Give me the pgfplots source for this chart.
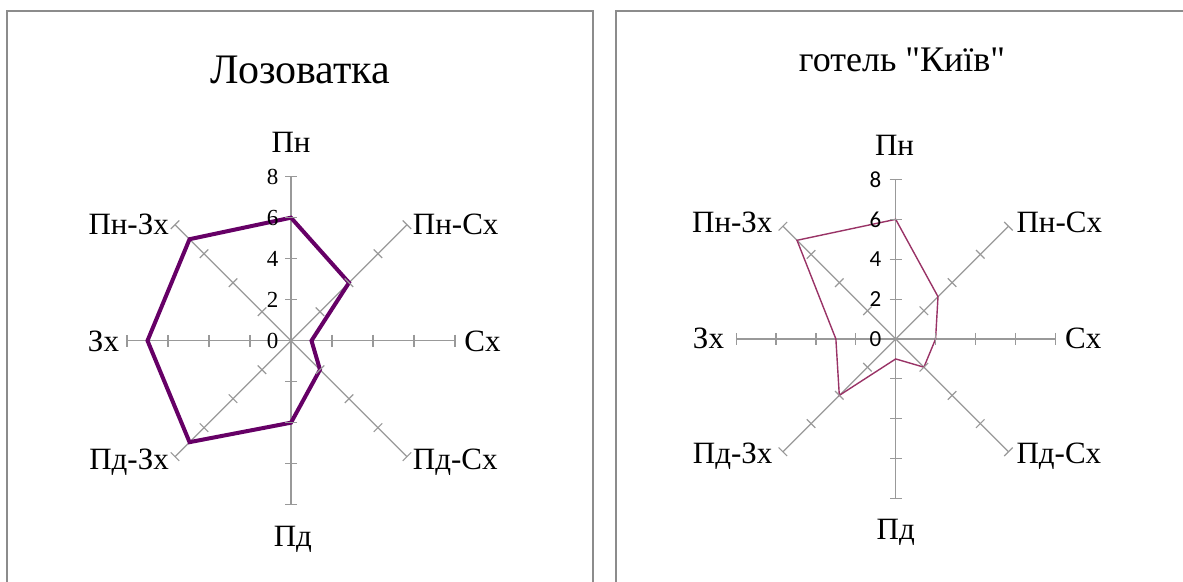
\documentclass[border=0pt]{standalone}
\usepackage{pgfplots}
\pgfplotsset{compat=1.18}
\usepackage{fontspec}
\setmainfont[Ligatures=TeXOff]{Liberation Serif}
\newfontfamily\calibri{Carlito}
\definecolor{spoke}{HTML}{999999}
\definecolor{boxgray}{HTML}{8C8C8C}
\definecolor{lozo}{HTML}{660066}
\definecolor{kyiv}{HTML}{993366}
\pgfplotsset{
  radar/.style={anchor=center, x=#1, y=#1, xmin=-11, xmax=11, ymin=-11, ymax=11,
    hide axis, clip=false},
}
\tikzset{lab/.style={inner sep=0pt, font=\fontsize{15.5}{18}\selectfont}}
\newcommand{\spokes}{%
  \pgfplotsinvokeforeach{0,45,...,315}{
    \addplot[spoke, line width=0.6pt, data cs=polar] coordinates {(##1,0) (##1,8)};
    \addplot[spoke, line width=0.6pt, only marks, mark=|, mark size=3pt,
      mark options={rotate=##1, solid}, data cs=polar]
      coordinates {(##1,2) (##1,4) (##1,6) (##1,8)};
  }%
}
\begin{document}
\begin{tikzpicture}
\path[use as bounding box] (0pt,0pt) rectangle (591.5pt,291pt);
\clip (0pt,0pt) rectangle (591.5pt,291pt);
\draw[boxgray, line width=1pt] (3.3pt,-20pt) rectangle (296.3pt,285.5pt);
\draw[boxgray, line width=1pt] (307.9pt,-20pt) rectangle (640pt,285.3pt);
\node[anchor=base, inner sep=0pt, font=\fontsize{21}{25}\selectfont] at (150.2pt,249.3pt) {Лозоватка};
\node[anchor=base, inner sep=0pt, font=\fontsize{18}{22}\selectfont] at (451pt,255.3pt) {готель "Київ"};

% Left chart
\begin{axis}[radar=10.25pt, at={(145.5pt,120.65pt)}]
\spokes
\addplot[lozo, line width=2pt, data cs=polar] coordinates
  {(90,6) (45,4) (0,1) (-45,2) (-90,4) (-135,7) (180,7) (135,7)} -- cycle;
\pgfplotsinvokeforeach{0,2,4,6,8}{
  \node[anchor=east, inner sep=0pt, font=\fontsize{11.5}{14}\selectfont] at (axis cs:-0.6,#1) {#1};
}
\node[lab, anchor=base] at (axis cs:0,9.16) {Пн};
\node[lab, anchor=base west] at (axis cs:5.93,5.2) {Пн-Сх};
\node[lab, anchor=base west] at (axis cs:8.44,-0.53) {Сх};
\node[lab, anchor=base west] at (axis cs:5.93,-6.3) {Пд-Сх};
\node[lab, anchor=base] at (axis cs:0.09,-10.05) {Пд};
\node[lab, anchor=base east] at (axis cs:-5.94,-6.3) {Пд-Зх};
\node[lab, anchor=base east] at (axis cs:-8.37,-0.53) {Зх};
\node[lab, anchor=base east] at (axis cs:-5.94,5.2) {Пн-Зх};
\end{axis}

% Right chart
\begin{axis}[radar=9.97pt, at={(447.85pt,121.5pt)}]
\spokes
\addplot[kyiv, line width=0.7pt, data cs=polar] coordinates
  {(90,6) (45,3) (0,2) (-45,2) (-90,1) (-135,4) (180,3) (135,7)} -- cycle;
\pgfplotsinvokeforeach{0,2,4,6,8}{
  \node[anchor=east, inner sep=0pt, font=\calibri\fontsize{11.5}{14}\selectfont] at (axis cs:-0.7,#1) {#1};
}
\node[lab, anchor=base] at (axis cs:-0.06,9.2) {Пн};
\node[lab, anchor=base west] at (axis cs:6.04,5.33) {Пн-Сх};
\node[lab, anchor=base west] at (axis cs:8.48,-0.5) {Сх};
\node[lab, anchor=base west] at (axis cs:6.04,-6.25) {Пд-Сх};
\node[lab, anchor=base] at (axis cs:0,-10.04) {Пд};
\node[lab, anchor=base east] at (axis cs:-6.16,-6.25) {Пд-Зх};
\node[lab, anchor=base east] at (axis cs:-8.59,-0.5) {Зх};
\node[lab, anchor=base east] at (axis cs:-6.16,5.33) {Пн-Зх};
\end{axis}
\end{tikzpicture}
\end{document}
